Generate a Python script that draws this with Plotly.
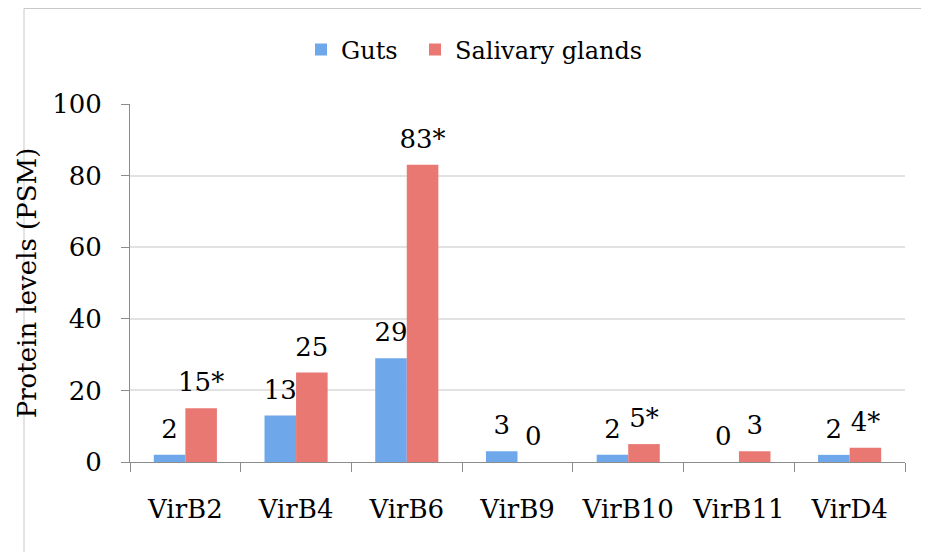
import plotly.graph_objects as go

categories = ["VirB2", "VirB4", "VirB6", "VirB9", "VirB10", "VirB11", "VirD4"]
guts = [2, 13, 29, 3, 2, 0, 2]
salivary = [15, 25, 83, 0, 5, 3, 4]
guts_labels = ["2", "13", "29", "3", "2", "0", "2"]
salivary_labels = ["15*", "25", "83*", "0", "5*", "3", "4*"]
y_ticks = [0, 20, 40, 60, 80, 100]

FONT = "DejaVu Serif"
BLUE = "#6ea8ea"
RED = "#e97873"

fig = go.Figure()
fig.add_trace(go.Bar(
    x=categories, y=guts, name="Guts", offsetgroup="g", legendwidth=69,
    marker=dict(color=BLUE, line=dict(width=0)), hoverinfo="skip",
))
fig.add_trace(go.Bar(
    x=categories, y=salivary, name="Salivary glands", offsetgroup="s",
    marker=dict(color=RED, line=dict(width=0)), hoverinfo="skip",
))
# value labels (invisible markers give the gap above the bar tops)
for vals, labels, grp in [(guts, guts_labels, "g"), (salivary, salivary_labels, "s")]:
    fig.add_trace(go.Scatter(
        x=categories, y=vals, text=labels, mode="markers+text",
        offsetgroup=grp, textposition="top center", cliponaxis=False,
        marker=dict(size=15, color="rgba(0,0,0,0)"),
        textfont=dict(family=FONT, size=26, color="black"),
        showlegend=False, hoverinfo="skip",
    ))

W, H = 921, 544
L, R, T, B = 122, 24, 96, 90
pw, ph = W - L - R, H - T - B
top_y = 1 + (104 - 8.5) / ph
left_x = (24 - 130) / pw

fig.update_layout(
    width=W, height=H,
    paper_bgcolor="white", plot_bgcolor="white",
    barmode="group", bargap=0.43, bargroupgap=0,
    scattermode="group", scattergap=0.43,
    margin=dict(l=L, r=R, t=T, b=B, autoexpand=False),
    font=dict(family=FONT, size=26, color="black"),
    legend=dict(orientation="h", x=(301 - 130) / pw, xanchor="left", y=1.151, yanchor="middle",
                font=dict(family=FONT, size=24, color="black"),
                traceorder="normal", bgcolor="rgba(0,0,0,0)"),
    showlegend=True,
    shapes=[
        dict(type="line", xref="paper", yref="paper",
             x0=left_x, x1=left_x, y0=top_y, y1=-0.4,
             line=dict(color="#c8c8c8", width=1)),
        dict(type="line", xref="paper", yref="paper",
             x0=left_x, x1=1.2, y0=top_y, y1=top_y,
             line=dict(color="#c8c8c8", width=1)),
    ],
)
fig.update_xaxes(
    showline=True, linecolor="#8c8c8c", linewidth=1,
    ticks="outside", tickson="boundaries", ticklen=9, tickcolor="#8c8c8c",
    tickfont=dict(family=FONT, size=26, color="black"),
    ticklabelstandoff=24,
    showgrid=False,
)
fig.update_yaxes(
    range=[0, 100], tickvals=y_ticks,
    showline=True, linecolor="#8c8c8c", linewidth=1,
    ticks="outside", ticklen=8, tickcolor="#8c8c8c",
    tickfont=dict(family=FONT, size=26, color="black"),
    ticklabelstandoff=14,
    showgrid=True, gridcolor="#e2e2e2", gridwidth=1.5,
    zeroline=False,
    title=dict(text="Protein levels (PSM)", font=dict(family=FONT, size=26, color="black"), standoff=8),
)

fig.write_html("out.html")
